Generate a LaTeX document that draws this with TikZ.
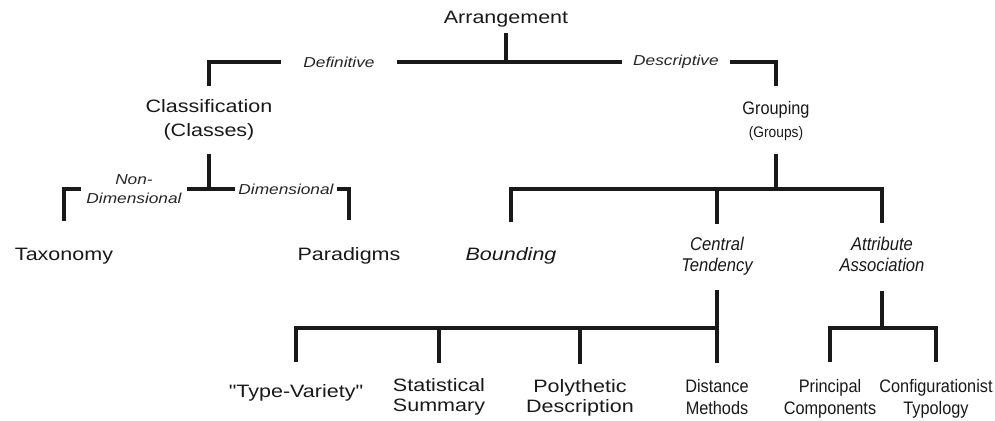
\documentclass[tikz,border=0pt]{standalone}
\usepackage{fontspec}
\setmainfont[FakeStretch=1.2,Ligatures=TeXOff]{Liberation Sans}
\newfontfamily\narrowfont[FakeStretch=0.9]{Liberation Sans}
\usetikzlibrary{positioning}

\tikzset{
  tree/.style={line width=1.8pt, black!90},
  bigtxt/.style={inner sep=0pt, align=center, text=black!90,
    font=\fontsize{10.2}{11.5}\selectfont},
  brlbl/.style={inner sep=0pt, align=center, text=black!85,
    font=\fontsize{8.2}{10.8}\selectfont\itshape},
  nartxt/.style={inner sep=0pt, align=center, text=black!90,
    font=\narrowfont\fontsize{10.3}{12.5}\selectfont},
}

\begin{document}
\begin{tikzpicture}[x=0.2mm,y=-0.2mm]
  \fill[white] (0,0) rectangle (995,421);
  \useasboundingbox (0,0) rectangle (995,421);

  % top level
  \node[bigtxt] (arr) at (506,19.5) {Arrangement};
  \node[brlbl,inner xsep=12.5pt] (defn) at (339,62) {Definitive};
  \node[brlbl,inner xsep=6pt] (desc) at (676,62) {Descriptive};

  \node[bigtxt,font=\fontsize{10.2}{13.5}\selectfont] (cls) at (209,120)
    {Classification\\(Classes)};
  \node[nartxt,font=\narrowfont\fontsize{10.3}{13.4}\selectfont] (grp) at (776,121)
    {Grouping\\{\fontsize{8.7}{10}\selectfont(Groups)}};

  \draw[tree,shorten <=2.8pt] (arr.south) -- (arr.south |- defn.east);
  \draw[tree,shorten >=7.4pt] (defn.west) -| (cls.north);
  \draw[tree] (defn.east) -- (desc.west);
  \draw[tree,shorten >=8.5pt] (desc.east) -| (grp.north);

  % classification
  \node[brlbl,inner xsep=3pt] (nondim) at (134,189) {Non-\\Dimensional};
  \node[brlbl,inner xsep=2pt] (dim) at (286,189) {Dimensional};
  \node[bigtxt] (tax) at (64,256) {Taxonomy};
  \node[bigtxt] (par) at (349,256) {Paradigms};

  \draw[tree,shorten <=7.4pt] (cls.south) -- (cls.south |- dim.west);
  \draw[tree,shorten >=15.3pt] (nondim.west) -| (tax.north);
  \draw[tree] (nondim.east) -- (dim.west);
  \draw[tree,shorten >=15.3pt] (dim.east) -| (par.north);

  % grouping
  \coordinate (gbar) at (776,189);
  \node[bigtxt,font=\fontsize{10.2}{11.5}\selectfont\itshape] (bnd) at (511,256) {Bounding};
  \node[nartxt,font=\narrowfont\fontsize{10.5}{12}\selectfont\itshape] (ctd) at (717,256.5)
    {Central\\Tendency};
  \node[nartxt,font=\narrowfont\fontsize{10.5}{12}\selectfont\itshape] (att) at (882,254)
    {Attribute\\Association};

  \draw[tree,shorten <=7.4pt] (grp.south) -- (gbar);
  \draw[tree,shorten <=14.2pt,shorten >=7.4pt] (bnd.north) |- (gbar) -| (att.north);
  \draw[tree,shorten <=7.4pt] (ctd.north) -- (ctd.north |- gbar);

  % central tendency
  \coordinate (cbar) at (717,328);
  \node[bigtxt] (tv) at (296,393) {"Type-Variety"};
  \node[bigtxt] (ss) at (439,396.5) {Statistical\\Summary};
  \node[bigtxt] (pd) at (580,397.5) {Polythetic\\Description};
  \node[nartxt] (dm) at (717,397.5) {Distance\\Methods};

  \draw[tree,shorten <=8pt,shorten >=9.6pt] (ctd.south) -- (dm.north);
  \draw[tree,shorten <=12.5pt] (tv.north) |- (cbar);
  \draw[tree,shorten >=8.5pt] (cbar -| ss.north) -- (ss.north);
  \draw[tree,shorten >=8.5pt] (cbar -| pd.north) -- (pd.north);

  % attribute association
  \coordinate (abar) at (882,328);
  \node[nartxt] (pc) at (830,399) {Principal\\Components};
  \node[nartxt] (ct) at (936,399) {Configurationist\\Typology};

  \draw[tree,shorten <=10.8pt] (att.south) -- (abar);
  \draw[tree,shorten <=9.6pt,shorten >=9.6pt] (pc.north) |- (abar) -| (ct.north);
\end{tikzpicture}
\end{document}
